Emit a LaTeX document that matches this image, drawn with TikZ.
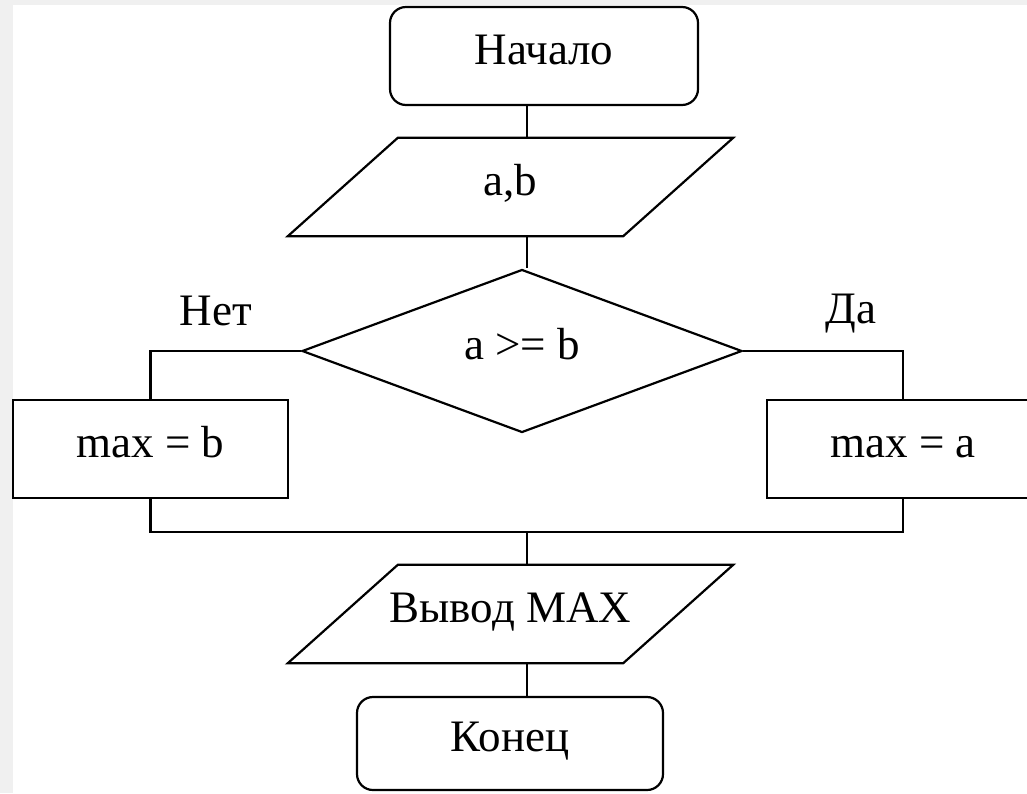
\documentclass[tikz,border=0pt]{standalone}
\usepackage{fontspec}
\setmainfont{Liberation Serif}
\usetikzlibrary{shapes.geometric}
\definecolor{bg}{HTML}{F0F0F0}
\begin{document}
\begin{tikzpicture}[x=1pt,y=-1pt,
  every node/.style={font=\fontsize{45}{54}\selectfont},
  blk/.style={draw, line width=2.2pt, fill=white, inner sep=0pt, text height=30pt, text depth=14pt},
  term/.style={blk, rectangle, rounded corners=16pt},
  proc/.style={blk, rectangle, minimum height=98pt},
  io/.style={inner sep=0pt, text height=30pt, text depth=14pt, rectangle, minimum width=445pt, minimum height=98pt},
  cond/.style={blk, diamond, minimum width=440pt, minimum height=163pt},
  conn/.style={line width=2.2pt},
  shapeline/.style={line width=2.2pt, line join=miter},
  lbl/.style={anchor=base, inner sep=0pt}]
\clip (0,0) rectangle (1027,793);
\fill[bg] (0,0) rectangle (1027,793);
\fill[white] (13,5) rectangle (1027,793);

\node[term, minimum width=308pt, minimum height=98pt] (start) at (544,56) {Начало};
\node[io] (inp) at (510.5,187) {a,b};
\draw[shapeline] ([xshift=110pt]inp.north west) -- (inp.north east) -- ([xshift=-110pt]inp.south east) -- (inp.south west) -- cycle;
\node[cond] (dec) at (522,351) {a >= b};
\node[proc, minimum width=275pt] (no) at (150.5,449) {max = b};
\node[proc, minimum width=272pt] (yes) at (903,449) {max = a};
\node[io] (out) at (510.5,614) {Вывод MAX};
\draw[shapeline] ([xshift=110pt]out.north west) -- (out.north east) -- ([xshift=-110pt]out.south east) -- (out.south west) -- cycle;
\node[term, minimum width=306pt, minimum height=93pt] (end) at (510,743.5) {Конец};

\node[lbl] (nolbl) at (216,325) {Нет};
\node[lbl] (yeslbl) at (851,323) {Да};

\coordinate (ax) at (527,0);
\coordinate (mj) at (527,532);
\draw[conn] (start.south -| ax) -- (inp.north -| ax);
\draw[conn] (inp.south -| ax) -- (ax |- dec.north);
\draw[conn] (dec.west) -| (no.north);
\draw[conn] (dec.east) -| (yes.north);
\draw[conn] (no.south) |- (mj) -| (yes.south);
\draw[conn] (mj) -- (out.north -| mj);
\draw[conn] (out.south -| ax) -- (end.north -| ax);
\end{tikzpicture}
\end{document}
